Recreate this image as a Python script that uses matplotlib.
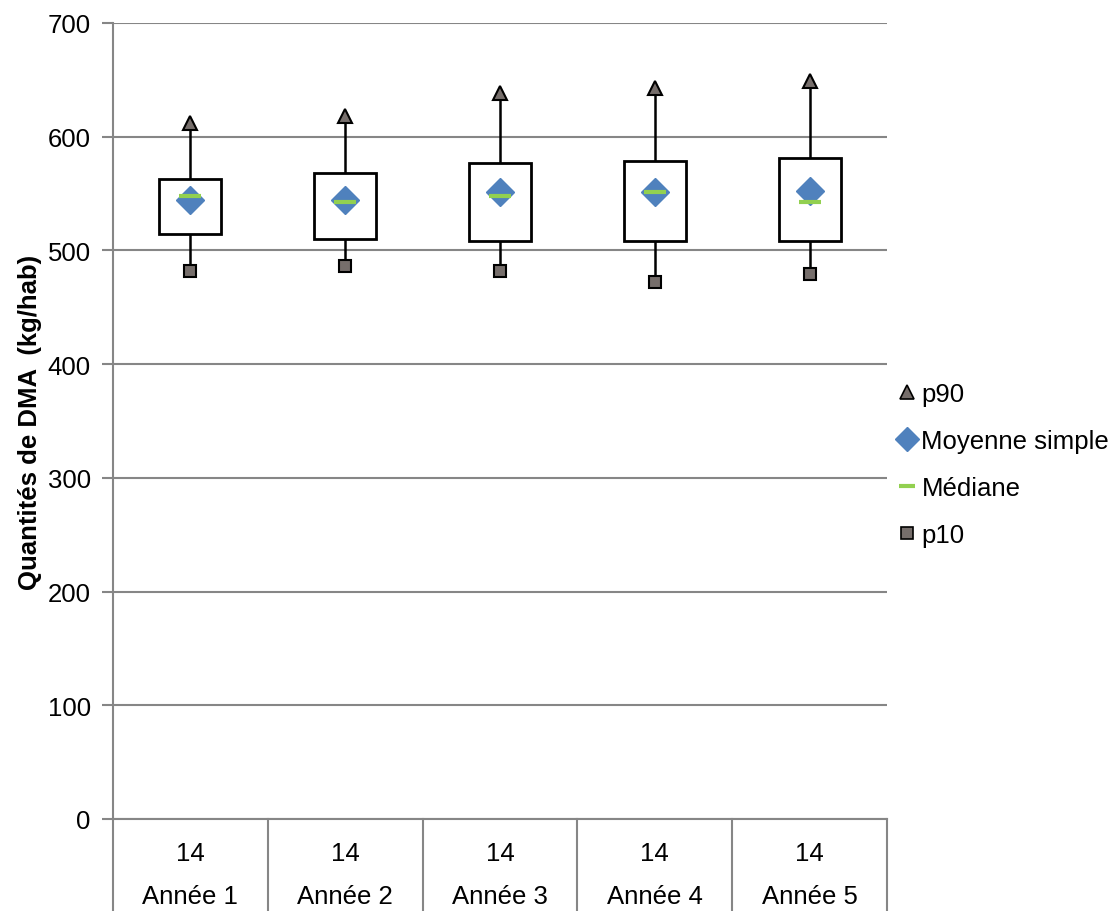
import numpy as np
import matplotlib.pyplot as plt
from matplotlib.patches import Rectangle
from matplotlib.lines import Line2D

plt.rcParams['font.family'] = ['Liberation Sans', 'DejaVu Sans']

# Donnees
annees = ['Année 1', 'Année 2', 'Année 3', 'Année 4', 'Année 5']
effectifs = [14, 14, 14, 14, 14]
q1 = [514, 510, 508, 508, 508]
q3 = [563, 568, 577, 579, 581]
p90 = [612, 618, 638, 643, 649]
p10 = [482, 486, 482, 472, 479]
moyenne = [544, 544, 551, 551, 552]
mediane = [548, 543, 548, 551, 543]

gris = '#868686'
brun = '#766e6b'
bleu = '#4f81bd'
vert = '#92d050'

fig = plt.figure(figsize=(11.19, 9.12), dpi=100)
ax = fig.add_axes([0.101, 0.1009, 0.6917, 0.8728])

x = np.arange(len(annees))
w = 0.4

# boites et moustaches
for i in x:
    ax.add_patch(Rectangle((i - w / 2, q1[i]), w, q3[i] - q1[i],
                           facecolor='white', edgecolor='black', lw=2, zorder=3))
    ax.plot([i, i], [q3[i], p90[i]], color='black', lw=1.8, zorder=2)
    ax.plot([i, i], [p10[i], q1[i]], color='black', lw=1.8, zorder=2)

ax.plot(x, p90, ls='none', marker='^', ms=10, mfc=brun, mec='black', mew=1.5, zorder=4)
ax.plot(x, p10, ls='none', marker='s', ms=9, mfc=brun, mec='black', mew=1.5, zorder=4)
ax.plot(x, moyenne, ls='none', marker='D', ms=14, mfc=bleu, mec=bleu, zorder=4)
ax.plot(x, mediane, ls='none', marker='_', ms=16, mec=vert, mew=3, zorder=5)

ax.set_xlim(-0.5, len(annees) - 0.5)
ax.set_ylim(0, 700)
ax.set_yticks(np.arange(0, 701, 100))
ax.yaxis.grid(True, color=gris, lw=1.5)
ax.set_axisbelow(True)
ax.tick_params(axis='y', labelsize=18.5, length=8, width=1.5, color=gris, pad=8)
ax.set_xticks([])
for s in ['top', 'right']:
    ax.spines[s].set_visible(False)
for s in ['left', 'bottom']:
    ax.spines[s].set_color(gris)
    ax.spines[s].set_linewidth(1.5)

ax.set_ylabel('Quantités de DMA  (kg/hab)', fontsize=18.5, fontweight='bold', labelpad=4)

# etiquettes de categories sur deux lignes avec separateurs
trans = ax.get_xaxis_transform()
for i in x:
    ax.text(i, -0.043, str(effectifs[i]), transform=trans, ha='center', va='center', fontsize=18.5)
    ax.text(i, -0.097, annees[i], transform=trans, ha='center', va='center', fontsize=18.5)
for b in np.arange(-0.5, len(annees), 1.0):
    ax.add_line(Line2D([b, b], [0, -0.12], transform=trans, color=gris, lw=1.5, clip_on=False))

handles = [
    Line2D([], [], ls='none', marker='^', ms=10, mfc=brun, mec='black', mew=1.2),
    Line2D([], [], ls='none', marker='D', ms=12, mfc=bleu, mec=bleu),
    Line2D([], [], ls='none', marker='_', ms=12, mec=vert, mew=3),
    Line2D([], [], ls='none', marker='s', ms=9, mfc=brun, mec='black', mew=1.2),
]
ax.legend(handles, ['p90', 'Moyenne simple', 'Médiane', 'p10'],
          loc='center left', bbox_to_anchor=(1.0026, 0.4455), frameon=False,
          fontsize=18.5, handlelength=0.6, handletextpad=0.26, labelspacing=0.89,
          borderaxespad=0)

fig.savefig('out.png', dpi=100)
